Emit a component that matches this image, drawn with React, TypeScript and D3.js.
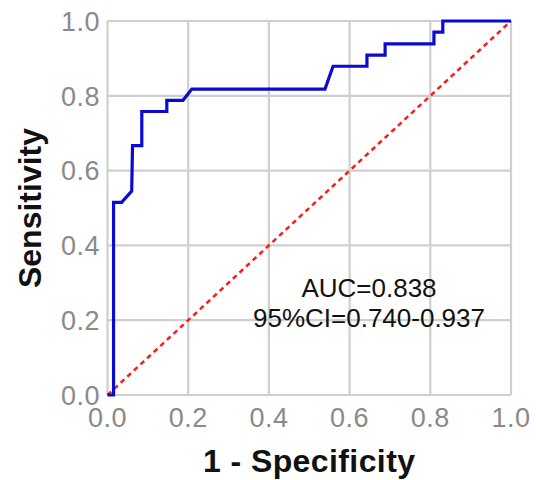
import * as d3 from 'd3'

// ROC curve points
const fpr = [0, 0.015, 0.015, 0.035, 0.06, 0.062, 0.085, 0.085, 0.147, 0.147, 0.187, 0.209, 0.539, 0.559, 0.643, 0.643, 0.688, 0.688, 0.809, 0.809, 0.831, 0.831, 1]
const tpr = [0, 0, 0.515, 0.515, 0.545, 0.667, 0.667, 0.758, 0.758, 0.788, 0.788, 0.818, 0.818, 0.879, 0.879, 0.909, 0.909, 0.939, 0.939, 0.970, 0.970, 1, 1]
const ticks = [0, 0.2, 0.4, 0.6, 0.8, 1.0]
const annotation = ['AUC=0.838', '95%CI=0.740-0.937']

const App = () => {
    const width = 536
    const height = 480
    const left = 107.5
    const right = 511
    const top = 21
    const bottom = 395

    const xScale = d3.scaleLinear().domain([0, 1]).range([left, right])
    const yScale = d3.scaleLinear().domain([0, 1]).range([bottom, top])

    const points: [number, number][] = fpr.map((f, i) => [f, tpr[i]])
    const curve = d3.line<[number, number]>()
        .x(d => xScale(d[0]))
        .y(d => yScale(d[1]))(points)

    const font = '"Liberation Sans", Arial, sans-serif'

    return (
        <svg width={width} height={height} style={{ display: 'block', position: 'absolute', left: 0, top: 0 }}>
            <rect width={width} height={height} fill="#fff" />
            {ticks.map(t => (
                <g key={'g' + t}>
                    <line x1={xScale(t)} x2={xScale(t)} y1={top} y2={bottom} stroke="#cfcfcf" strokeWidth={2.2} />
                    <line x1={left} x2={right} y1={yScale(t)} y2={yScale(t)} stroke="#cfcfcf" strokeWidth={2.2} />
                </g>
            ))}
            {ticks.map(t => (
                <text key={'x' + t} x={xScale(t)} y={427} textAnchor="middle" fontFamily={font} fontSize={27} letterSpacing={0.5} fill="#8a8a8a">
                    {t.toFixed(1)}
                </text>
            ))}
            {ticks.map(t => (
                <text key={'y' + t} x={100} y={yScale(t)} dy="0.36em" textAnchor="end" fontFamily={font} fontSize={27} letterSpacing={0.5} fill="#8a8a8a">
                    {t.toFixed(1)}
                </text>
            ))}
            <line x1={xScale(0)} y1={yScale(0)} x2={xScale(1)} y2={yScale(1)} stroke="#ff1a1a" strokeWidth={2.5} strokeDasharray="5,4" />
            <path d={curve ?? ''} fill="none" stroke="#0a0ad2" strokeWidth={3.2} strokeLinejoin="miter" />
            {annotation.map((s, i) => (
                <text key={s} x={369} y={297 + i * 30} textAnchor="middle" fontFamily={font} fontSize={26} fill="#111">
                    {s}
                </text>
            ))}
            <text x={(left + right) / 2} y={472} textAnchor="middle" fontFamily={font} fontSize={32} letterSpacing={0.4} fontWeight="bold" fill="#111">
                1 - Specificity
            </text>
            <text transform={`translate(41, ${(top + bottom) / 2}) rotate(-90)`} textAnchor="middle" fontFamily={font} fontSize={32} fontWeight="bold" fill="#111">
                Sensitivity
            </text>
        </svg>
    )
}

export default App
